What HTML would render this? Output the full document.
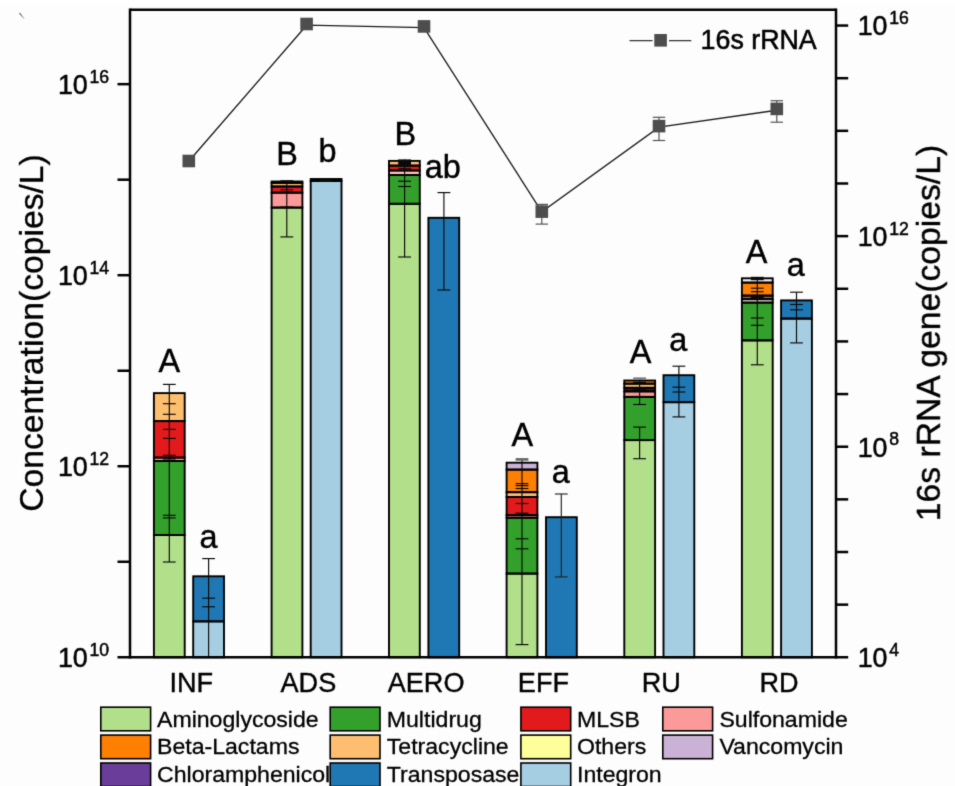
<!DOCTYPE html>
<html lang="en">
<head>
<meta charset="utf-8">
<title>ARG concentration chart</title>
<style>
html,body{margin:0;padding:0;background:#fdfdfd;}
body{width:955px;height:786px;overflow:hidden;font-family:"Liberation Sans",sans-serif;}
svg{display:block;}
</style>
</head>
<body>
<svg width="955" height="786" viewBox="0 0 955 786" font-family="'Liberation Sans', sans-serif" fill="#000">
<rect x="0" y="0" width="955" height="786" fill="#fdfdfd"/>
<rect x="0" y="0" width="955" height="5" fill="#ffffff"/>
<defs><filter id="soft" x="-2%" y="-2%" width="104%" height="104%" color-interpolation-filters="sRGB"><feConvolveMatrix order="3" kernelMatrix="0.0144 0.0912 0.0144 0.0912 0.5776 0.0912 0.0144 0.0912 0.0144" divisor="1" edgeMode="duplicate" preserveAlpha="false"/></filter></defs>
<g filter="url(#soft)">
<defs><linearGradient id="sg" gradientUnits="userSpaceOnUse" x1="19.4" y1="13" x2="24.6" y2="19.2"><stop offset="0" stop-color="#666"/><stop offset="0.6" stop-color="#7a7a7a"/><stop offset="1" stop-color="#c8c8c8"/></linearGradient></defs>
<path d="M19.0 13.4L19.9 12.6L24.7 18.9L24.3 19.3Z" fill="url(#sg)"/>
<rect x="153.9" y="393.1" width="30.8" height="28" fill="#fdbf6f"/>
<rect x="153.9" y="421.1" width="30.8" height="36.5" fill="#e31a1c"/>
<rect x="153.9" y="457.6" width="30.8" height="3.4" fill="#fb9a99"/>
<rect x="153.9" y="461" width="30.8" height="74" fill="#33a02c"/>
<rect x="153.9" y="535" width="30.8" height="122.3" fill="#b2df8a"/>
<rect x="153.9" y="393.1" width="30.8" height="28" fill="none" stroke="#000" stroke-width="1.9"/>
<rect x="153.9" y="421.1" width="30.8" height="36.5" fill="none" stroke="#000" stroke-width="1.9"/>
<rect x="153.9" y="457.6" width="30.8" height="3.4" fill="none" stroke="#000" stroke-width="1.9"/>
<rect x="153.9" y="461" width="30.8" height="74" fill="none" stroke="#000" stroke-width="1.9"/>
<rect x="153.9" y="535" width="30.8" height="122.3" fill="none" stroke="#000" stroke-width="1.9"/>
<path d="M169.3 384.4V562" stroke="#0a0a0a" stroke-width="1.15" fill="none"/>
<path d="M162.9 384.4H175.7" stroke="#0a0a0a" stroke-width="1.15" fill="none"/>
<path d="M162.9 403.7H175.7" stroke="#0a0a0a" stroke-width="1.15" fill="none"/>
<path d="M162.9 414.3H175.7" stroke="#0a0a0a" stroke-width="1.15" fill="none"/>
<path d="M162.9 429.4H175.7" stroke="#0a0a0a" stroke-width="1.15" fill="none"/>
<path d="M162.9 438.4H175.7" stroke="#0a0a0a" stroke-width="1.15" fill="none"/>
<path d="M162.9 455.3H175.7" stroke="#0a0a0a" stroke-width="1.15" fill="none"/>
<path d="M162.9 459H175.7" stroke="#0a0a0a" stroke-width="1.15" fill="none"/>
<path d="M162.9 515.3H175.7" stroke="#0a0a0a" stroke-width="1.15" fill="none"/>
<path d="M162.9 517.9H175.7" stroke="#0a0a0a" stroke-width="1.15" fill="none"/>
<path d="M162.9 562H175.7" stroke="#0a0a0a" stroke-width="1.15" fill="none"/>
<rect x="193.2" y="576.3" width="30.8" height="45.1" fill="#1f78b4"/>
<rect x="193.2" y="621.4" width="30.8" height="35.9" fill="#a6cee3"/>
<rect x="193.2" y="576.3" width="30.8" height="45.1" fill="none" stroke="#000" stroke-width="1.9"/>
<rect x="193.2" y="621.4" width="30.8" height="35.9" fill="none" stroke="#000" stroke-width="1.9"/>
<path d="M208.6 558.6V657.3" stroke="#0a0a0a" stroke-width="1.15" fill="none"/>
<path d="M202.2 558.6H215" stroke="#0a0a0a" stroke-width="1.15" fill="none"/>
<path d="M202.2 598.2H215" stroke="#0a0a0a" stroke-width="1.15" fill="none"/>
<path d="M202.2 606.8H215" stroke="#0a0a0a" stroke-width="1.15" fill="none"/>
<rect x="271.6" y="181.5" width="30.8" height="1.4" fill="#ff7f00"/>
<rect x="271.6" y="182.9" width="30.8" height="3.6" fill="#fdbf6f"/>
<rect x="271.6" y="186.5" width="30.8" height="6.2" fill="#e31a1c"/>
<rect x="271.6" y="192.7" width="30.8" height="14.9" fill="#fb9a99"/>
<rect x="271.6" y="207.6" width="30.8" height="449.7" fill="#b2df8a"/>
<rect x="271.6" y="181.5" width="30.8" height="1.4" fill="none" stroke="#000" stroke-width="1.9"/>
<rect x="271.6" y="182.9" width="30.8" height="3.6" fill="none" stroke="#000" stroke-width="1.9"/>
<rect x="271.6" y="186.5" width="30.8" height="6.2" fill="none" stroke="#000" stroke-width="1.9"/>
<rect x="271.6" y="192.7" width="30.8" height="14.9" fill="none" stroke="#000" stroke-width="1.9"/>
<rect x="271.6" y="207.6" width="30.8" height="449.7" fill="none" stroke="#000" stroke-width="1.9"/>
<path d="M286.8 181V236.9" stroke="#0a0a0a" stroke-width="1.15" fill="none"/>
<path d="M280.4 181.2H293.2" stroke="#0a0a0a" stroke-width="2" fill="none"/>
<path d="M280.4 189.8H293.2" stroke="#0a0a0a" stroke-width="1" fill="none"/>
<path d="M280.4 192.2H293.2" stroke="#0a0a0a" stroke-width="1.15" fill="none"/>
<path d="M280.4 207H293.2" stroke="#0a0a0a" stroke-width="1.15" fill="none"/>
<path d="M280.4 236.9H293.2" stroke="#0a0a0a" stroke-width="1.15" fill="none"/>
<rect x="310.7" y="179" width="30.8" height="2" fill="#1f78b4"/>
<rect x="310.7" y="181" width="30.8" height="476.3" fill="#a6cee3"/>
<rect x="310.7" y="179" width="30.8" height="2" fill="none" stroke="#000" stroke-width="1.9"/>
<rect x="310.7" y="181" width="30.8" height="476.3" fill="none" stroke="#000" stroke-width="1.9"/>
<path d="M326.1 178.6V181.6" stroke="#0a0a0a" stroke-width="1.15" fill="none"/>
<path d="M319.7 180H332.5" stroke="#0a0a0a" stroke-width="3.6" fill="none"/>
<rect x="389" y="160.9" width="30.8" height="4.7" fill="#fdbf6f"/>
<rect x="389" y="165.6" width="30.8" height="4.9" fill="#e31a1c"/>
<rect x="389" y="170.5" width="30.8" height="4.5" fill="#fcc4ba"/>
<rect x="389" y="175" width="30.8" height="28.8" fill="#33a02c"/>
<rect x="389" y="203.8" width="30.8" height="453.5" fill="#b2df8a"/>
<rect x="389" y="160.9" width="30.8" height="4.7" fill="none" stroke="#000" stroke-width="1.9"/>
<rect x="389" y="165.6" width="30.8" height="4.9" fill="none" stroke="#000" stroke-width="1.9"/>
<rect x="389" y="170.5" width="30.8" height="4.5" fill="none" stroke="#000" stroke-width="1.9"/>
<rect x="389" y="175" width="30.8" height="28.8" fill="none" stroke="#000" stroke-width="1.9"/>
<rect x="389" y="203.8" width="30.8" height="453.5" fill="none" stroke="#000" stroke-width="1.9"/>
<path d="M404.6 159.5V257" stroke="#0a0a0a" stroke-width="1.15" fill="none"/>
<path d="M398.2 162.9H411" stroke="#0a0a0a" stroke-width="7" fill="none"/>
<path d="M398.2 168.4H411" stroke="#0a0a0a" stroke-width="1" fill="none"/>
<path d="M398.2 181.2H411" stroke="#0a0a0a" stroke-width="1.15" fill="none"/>
<path d="M398.2 186.5H411" stroke="#0a0a0a" stroke-width="1.15" fill="none"/>
<path d="M398.2 257H411" stroke="#0a0a0a" stroke-width="1.15" fill="none"/>
<rect x="428.4" y="217.8" width="30.8" height="439.5" fill="#1f78b4"/>
<rect x="428.4" y="217.8" width="30.8" height="439.5" fill="none" stroke="#000" stroke-width="1.9"/>
<path d="M443.9 192.6V290" stroke="#0a0a0a" stroke-width="1.15" fill="none"/>
<path d="M437.5 192.6H450.3" stroke="#0a0a0a" stroke-width="1.15" fill="none"/>
<path d="M437.5 290H450.3" stroke="#0a0a0a" stroke-width="1.15" fill="none"/>
<rect x="506.6" y="462.7" width="30.8" height="6.9" fill="#cab2d6"/>
<rect x="506.6" y="469.6" width="30.8" height="22.6" fill="#ff7f00"/>
<rect x="506.6" y="492.2" width="30.8" height="4.8" fill="#fdbf6f"/>
<rect x="506.6" y="497" width="30.8" height="18" fill="#e31a1c"/>
<rect x="506.6" y="515" width="30.8" height="2.7" fill="#fb9a99"/>
<rect x="506.6" y="517.7" width="30.8" height="55.9" fill="#33a02c"/>
<rect x="506.6" y="573.6" width="30.8" height="83.7" fill="#b2df8a"/>
<rect x="506.6" y="462.7" width="30.8" height="6.9" fill="none" stroke="#000" stroke-width="1.9"/>
<rect x="506.6" y="469.6" width="30.8" height="22.6" fill="none" stroke="#000" stroke-width="1.9"/>
<rect x="506.6" y="492.2" width="30.8" height="4.8" fill="none" stroke="#000" stroke-width="1.9"/>
<rect x="506.6" y="497" width="30.8" height="18" fill="none" stroke="#000" stroke-width="1.9"/>
<rect x="506.6" y="515" width="30.8" height="2.7" fill="none" stroke="#000" stroke-width="1.9"/>
<rect x="506.6" y="517.7" width="30.8" height="55.9" fill="none" stroke="#000" stroke-width="1.9"/>
<rect x="506.6" y="573.6" width="30.8" height="83.7" fill="none" stroke="#000" stroke-width="1.9"/>
<path d="M522 459.2V644.6" stroke="#0a0a0a" stroke-width="1.15" fill="none"/>
<path d="M515.6 483.6H528.4" stroke="#0a0a0a" stroke-width="1.15" fill="none"/>
<path d="M515.6 485.6H528.4" stroke="#0a0a0a" stroke-width="1.15" fill="none"/>
<path d="M515.6 488.5H528.4" stroke="#0a0a0a" stroke-width="1.15" fill="none"/>
<path d="M515.6 503.5H528.4" stroke="#0a0a0a" stroke-width="1.15" fill="none"/>
<path d="M515.6 513.6H528.4" stroke="#0a0a0a" stroke-width="2" fill="none"/>
<path d="M515.6 538.8H528.4" stroke="#0a0a0a" stroke-width="1.15" fill="none"/>
<path d="M515.6 548.8H528.4" stroke="#0a0a0a" stroke-width="1.15" fill="none"/>
<path d="M515.6 644.6H528.4" stroke="#0a0a0a" stroke-width="1.15" fill="none"/>
<path d="M522 459.2V462" stroke="#666" stroke-width="1.15" fill="none"/>
<path d="M515.6 459.4H528.4" stroke="#666" stroke-width="2.6" fill="none"/>
<rect x="546" y="517.2" width="30.8" height="140.1" fill="#1f78b4"/>
<rect x="546" y="517.2" width="30.8" height="140.1" fill="none" stroke="#000" stroke-width="1.9"/>
<path d="M561.3 494V576.9" stroke="#222" stroke-width="1.15" fill="none"/>
<path d="M554.9 494H567.7" stroke="#222" stroke-width="1.15" fill="none"/>
<path d="M554.9 576.9H567.7" stroke="#222" stroke-width="1.15" fill="none"/>
<rect x="624.3" y="380.5" width="30.8" height="3.2" fill="#ff7f00"/>
<rect x="624.3" y="383.7" width="30.8" height="4.1" fill="#fdbf6f"/>
<rect x="624.3" y="387.8" width="30.8" height="3.6" fill="#4a1a12"/>
<rect x="624.3" y="391.4" width="30.8" height="5.5" fill="#fb9a99"/>
<rect x="624.3" y="396.9" width="30.8" height="43.2" fill="#33a02c"/>
<rect x="624.3" y="440.1" width="30.8" height="217.2" fill="#b2df8a"/>
<rect x="624.3" y="380.5" width="30.8" height="3.2" fill="none" stroke="#000" stroke-width="1.9"/>
<rect x="624.3" y="383.7" width="30.8" height="4.1" fill="none" stroke="#000" stroke-width="1.9"/>
<rect x="624.3" y="387.8" width="30.8" height="3.6" fill="none" stroke="#000" stroke-width="1.9"/>
<rect x="624.3" y="391.4" width="30.8" height="5.5" fill="none" stroke="#000" stroke-width="1.9"/>
<rect x="624.3" y="396.9" width="30.8" height="43.2" fill="none" stroke="#000" stroke-width="1.9"/>
<rect x="624.3" y="440.1" width="30.8" height="217.2" fill="none" stroke="#000" stroke-width="1.9"/>
<path d="M639.6 378V404.5" stroke="#0a0a0a" stroke-width="1.15" fill="none"/>
<path d="M633.2 382.5H646" stroke="#0a0a0a" stroke-width="1.6" fill="none"/>
<path d="M633.2 389.2H646" stroke="#0a0a0a" stroke-width="3" fill="none"/>
<path d="M633.2 396.6H646" stroke="#0a0a0a" stroke-width="1.4" fill="none"/>
<path d="M633.2 404.5H646" stroke="#0a0a0a" stroke-width="1.15" fill="none"/>
<path d="M639.6 427.1V458.7" stroke="#0a0a0a" stroke-width="1.15" fill="none"/>
<path d="M633.2 427.1H646" stroke="#0a0a0a" stroke-width="1.15" fill="none"/>
<path d="M633.2 458.7H646" stroke="#0a0a0a" stroke-width="1.15" fill="none"/>
<path d="M639.6 378V380" stroke="#777" stroke-width="1.15" fill="none"/>
<path d="M633.2 378.2H646" stroke="#777" stroke-width="1.6" fill="none"/>
<rect x="663.5" y="375.2" width="30.8" height="27" fill="#1f78b4"/>
<rect x="663.5" y="402.2" width="30.8" height="255.1" fill="#a6cee3"/>
<rect x="663.5" y="375.2" width="30.8" height="27" fill="none" stroke="#000" stroke-width="1.9"/>
<rect x="663.5" y="402.2" width="30.8" height="255.1" fill="none" stroke="#000" stroke-width="1.9"/>
<path d="M678.9 366.2V416.9" stroke="#0a0a0a" stroke-width="1.15" fill="none"/>
<path d="M672.5 366.2H685.3" stroke="#0a0a0a" stroke-width="1.15" fill="none"/>
<path d="M672.5 387.2H685.3" stroke="#0a0a0a" stroke-width="1.15" fill="none"/>
<path d="M672.5 392H685.3" stroke="#0a0a0a" stroke-width="1.15" fill="none"/>
<path d="M672.5 416.9H685.3" stroke="#0a0a0a" stroke-width="1.15" fill="none"/>
<rect x="741.9" y="278.3" width="30.8" height="4.3" fill="#f3edf8"/>
<rect x="741.9" y="282.6" width="30.8" height="13" fill="#ff7f00"/>
<rect x="741.9" y="295.6" width="30.8" height="3.6" fill="#8c6a5a"/>
<rect x="741.9" y="299.2" width="30.8" height="3.4" fill="#ffeee9"/>
<rect x="741.9" y="302.6" width="30.8" height="37.8" fill="#33a02c"/>
<rect x="741.9" y="340.4" width="30.8" height="316.9" fill="#b2df8a"/>
<rect x="741.9" y="278.3" width="30.8" height="4.3" fill="none" stroke="#000" stroke-width="1.9"/>
<rect x="741.9" y="282.6" width="30.8" height="13" fill="none" stroke="#000" stroke-width="1.9"/>
<rect x="741.9" y="295.6" width="30.8" height="3.6" fill="none" stroke="#000" stroke-width="1.9"/>
<rect x="741.9" y="299.2" width="30.8" height="3.4" fill="none" stroke="#000" stroke-width="1.9"/>
<rect x="741.9" y="302.6" width="30.8" height="37.8" fill="none" stroke="#000" stroke-width="1.9"/>
<rect x="741.9" y="340.4" width="30.8" height="316.9" fill="none" stroke="#000" stroke-width="1.9"/>
<path d="M757.3 277.5V364.8" stroke="#0a0a0a" stroke-width="1.15" fill="none"/>
<path d="M750.9 278.5H763.7" stroke="#0a0a0a" stroke-width="3.4" fill="none"/>
<path d="M750.9 288.2H763.7" stroke="#0a0a0a" stroke-width="1.15" fill="none"/>
<path d="M750.9 291.7H763.7" stroke="#0a0a0a" stroke-width="1.15" fill="none"/>
<path d="M750.9 297.4H763.7" stroke="#0a0a0a" stroke-width="3" fill="none"/>
<path d="M750.9 318H763.7" stroke="#0a0a0a" stroke-width="1.15" fill="none"/>
<path d="M750.9 325.3H763.7" stroke="#0a0a0a" stroke-width="1.15" fill="none"/>
<path d="M750.9 364.8H763.7" stroke="#0a0a0a" stroke-width="1.15" fill="none"/>
<rect x="781.1" y="300.4" width="30.8" height="18.2" fill="#1f78b4"/>
<rect x="781.1" y="318.6" width="30.8" height="338.7" fill="#a6cee3"/>
<rect x="781.1" y="300.4" width="30.8" height="18.2" fill="none" stroke="#000" stroke-width="1.9"/>
<rect x="781.1" y="318.6" width="30.8" height="338.7" fill="none" stroke="#000" stroke-width="1.9"/>
<path d="M796.5 292.2V342.9" stroke="#0a0a0a" stroke-width="1.15" fill="none"/>
<path d="M790.1 292.2H802.9" stroke="#0a0a0a" stroke-width="1.15" fill="none"/>
<path d="M790.1 304.5H802.9" stroke="#0a0a0a" stroke-width="1.15" fill="none"/>
<path d="M790.1 309.8H802.9" stroke="#0a0a0a" stroke-width="1.15" fill="none"/>
<path d="M790.1 342.9H802.9" stroke="#0a0a0a" stroke-width="1.15" fill="none"/>
<polyline points="188.8,161.2 306.6,25.2 424,27.6 541.8,211.9 659,127.1 776.8,110.2" fill="none" stroke="#1c1c1c" stroke-width="1.35"/>
<path d="M541.8 204.4V224.1" stroke="#555" stroke-width="1.2" fill="none"/>
<path d="M535.6 204.4H548" stroke="#555" stroke-width="1.2" fill="none"/>
<path d="M535.6 224.1H548" stroke="#555" stroke-width="1.2" fill="none"/>
<path d="M659 117.3V140.5" stroke="#555" stroke-width="1.2" fill="none"/>
<path d="M652.8 117.3H665.2" stroke="#555" stroke-width="1.2" fill="none"/>
<path d="M652.8 140.5H665.2" stroke="#555" stroke-width="1.2" fill="none"/>
<path d="M776.8 100.7V122.2" stroke="#555" stroke-width="1.2" fill="none"/>
<path d="M770.6 100.7H783" stroke="#555" stroke-width="1.2" fill="none"/>
<path d="M770.6 122.2H783" stroke="#555" stroke-width="1.2" fill="none"/>
<rect x="182.5" y="154.7" width="12.6" height="12.6" fill="#4d4d4d"/>
<rect x="300.3" y="17.7" width="12.6" height="12.6" fill="#4d4d4d"/>
<rect x="417.7" y="20.1" width="12.6" height="12.6" fill="#4d4d4d"/>
<rect x="535.5" y="205.3" width="12.6" height="12.6" fill="#4d4d4d"/>
<rect x="652.7" y="119.8" width="12.6" height="12.6" fill="#4d4d4d"/>
<rect x="770.5" y="102.6" width="12.6" height="12.6" fill="#4d4d4d"/>
<path d="M629.5 40.5H652.5M669 40.5H691.3" stroke="#333" stroke-width="1.25" fill="none"/>
<rect x="654.3" y="34" width="12.6" height="12.6" fill="#4d4d4d"/>
<text x="700.6" y="49.2" font-size="26.8" text-anchor="start" stroke="#000" stroke-width="0.55">16s rRNA</text>
<path d="M130 8.45V658.55" stroke="#000" stroke-width="2.5" fill="none"/>
<path d="M836 8.45V658.55" stroke="#000" stroke-width="2.5" fill="none"/>
<path d="M130 9.7H836" stroke="#000" stroke-width="2.5" fill="none"/>
<path d="M117.5 657.3H848.2" stroke="#000" stroke-width="2.5" fill="none"/>
<path d="M117.5 84.15H130" stroke="#000" stroke-width="2.5" fill="none"/>
<path d="M117.5 179.68H130" stroke="#000" stroke-width="2.5" fill="none"/>
<path d="M117.5 275.2H130" stroke="#000" stroke-width="2.5" fill="none"/>
<path d="M117.5 370.73H130" stroke="#000" stroke-width="2.5" fill="none"/>
<path d="M117.5 466.25H130" stroke="#000" stroke-width="2.5" fill="none"/>
<path d="M117.5 561.77H130" stroke="#000" stroke-width="2.5" fill="none"/>
<path d="M836 25.55H848.2" stroke="#000" stroke-width="2.5" fill="none"/>
<path d="M836 78.2H848.2" stroke="#000" stroke-width="2.5" fill="none"/>
<path d="M836 130.84H848.2" stroke="#000" stroke-width="2.5" fill="none"/>
<path d="M836 183.49H848.2" stroke="#000" stroke-width="2.5" fill="none"/>
<path d="M836 236.13H848.2" stroke="#000" stroke-width="2.5" fill="none"/>
<path d="M836 288.78H848.2" stroke="#000" stroke-width="2.5" fill="none"/>
<path d="M836 341.43H848.2" stroke="#000" stroke-width="2.5" fill="none"/>
<path d="M836 394.07H848.2" stroke="#000" stroke-width="2.5" fill="none"/>
<path d="M836 446.72H848.2" stroke="#000" stroke-width="2.5" fill="none"/>
<path d="M836 499.36H848.2" stroke="#000" stroke-width="2.5" fill="none"/>
<path d="M836 552.01H848.2" stroke="#000" stroke-width="2.5" fill="none"/>
<path d="M836 604.65H848.2" stroke="#000" stroke-width="2.5" fill="none"/>
<text x="57.9" y="93.95" font-size="26.8" stroke="#000" stroke-width="0.5">10<tspan font-size="17.6" dx="1.7" dy="-11.2">16</tspan></text>
<text x="57.9" y="285" font-size="26.8" stroke="#000" stroke-width="0.5">10<tspan font-size="17.6" dx="1.7" dy="-11.2">14</tspan></text>
<text x="57.9" y="476.05" font-size="26.8" stroke="#000" stroke-width="0.5">10<tspan font-size="17.6" dx="1.7" dy="-11.2">12</tspan></text>
<text x="57.9" y="667.1" font-size="26.8" stroke="#000" stroke-width="0.5">10<tspan font-size="17.6" dx="1.7" dy="-11.2">10</tspan></text>
<text x="857.7" y="35.35" font-size="26.8" stroke="#000" stroke-width="0.5">10<tspan font-size="17.6" dx="1.7" dy="-11.2">16</tspan></text>
<text x="857.7" y="245.93" font-size="26.8" stroke="#000" stroke-width="0.5">10<tspan font-size="17.6" dx="1.7" dy="-11.2">12</tspan></text>
<text x="857.7" y="456.52" font-size="26.8" stroke="#000" stroke-width="0.5">10<tspan font-size="17.6" dx="1.7" dy="-11.2">8</tspan></text>
<text x="857.7" y="667.1" font-size="26.8" stroke="#000" stroke-width="0.5">10<tspan font-size="17.6" dx="1.7" dy="-11.2">4</tspan></text>
<text x="191.3" y="692" font-size="27.1" text-anchor="middle" stroke="#000" stroke-width="0.38">INF</text>
<text x="308.4" y="692" font-size="27.1" text-anchor="middle" stroke="#000" stroke-width="0.38">ADS</text>
<text x="426.1" y="692" font-size="27.1" text-anchor="middle" stroke="#000" stroke-width="0.38">AERO</text>
<text x="543.4" y="692" font-size="27.1" text-anchor="middle" stroke="#000" stroke-width="0.38">EFF</text>
<text x="661.2" y="692" font-size="27.1" text-anchor="middle" stroke="#000" stroke-width="0.38">RU</text>
<text x="779.1" y="692" font-size="27.1" text-anchor="middle" stroke="#000" stroke-width="0.38">RD</text>
<text transform="translate(43.4 333) rotate(-90)" font-size="33.7" text-anchor="middle" stroke="#000" stroke-width="0.35">Concentration(copies/L)</text>
<text transform="translate(939.9 333) rotate(-90)" font-size="33.7" text-anchor="middle" stroke="#000" stroke-width="0.35">16s rRNA gene(copies/L)</text>
<text x="169.2" y="372" font-size="32.4" text-anchor="middle" stroke="#000" stroke-width="0.45">A</text>
<text x="208.6" y="547.8" font-size="32.4" text-anchor="middle" stroke="#000" stroke-width="0.45">a</text>
<text x="287" y="164.7" font-size="32.4" text-anchor="middle" stroke="#000" stroke-width="0.45">B</text>
<text x="327.4" y="162" font-size="32.4" text-anchor="middle" stroke="#000" stroke-width="0.45">b</text>
<text x="405.4" y="145" font-size="32.4" text-anchor="middle" stroke="#000" stroke-width="0.45">B</text>
<text x="442.7" y="178" font-size="32.4" text-anchor="middle" stroke="#000" stroke-width="0.45">ab</text>
<text x="522.4" y="446.3" font-size="32.4" text-anchor="middle" stroke="#000" stroke-width="0.45">A</text>
<text x="560.8" y="483" font-size="32.4" text-anchor="middle" stroke="#000" stroke-width="0.45">a</text>
<text x="640.6" y="363.3" font-size="32.4" text-anchor="middle" stroke="#000" stroke-width="0.45">A</text>
<text x="678.3" y="350.6" font-size="32.4" text-anchor="middle" stroke="#000" stroke-width="0.45">a</text>
<text x="756.6" y="263.1" font-size="32.4" text-anchor="middle" stroke="#000" stroke-width="0.45">A</text>
<text x="795.8" y="276.4" font-size="32.4" text-anchor="middle" stroke="#000" stroke-width="0.45">a</text>
<rect x="100.8" y="707.2" width="49.8" height="23.6" fill="#b2df8a" stroke="#000" stroke-width="1.6"/>
<text transform="translate(157 726.55) scale(1.036 1)" font-size="22.3" stroke="#000" stroke-width="0.3">Aminoglycoside</text>
<rect x="100.8" y="735.1" width="49.8" height="23.6" fill="#ff7f00" stroke="#000" stroke-width="1.6"/>
<text transform="translate(157 754.45) scale(1.036 1)" font-size="22.3" stroke="#000" stroke-width="0.3">Beta-Lactams</text>
<rect x="100.8" y="763" width="49.8" height="23.6" fill="#6a3d9a" stroke="#000" stroke-width="1.6"/>
<text transform="translate(157 782.35) scale(1.036 1)" font-size="22.3" stroke="#000" stroke-width="0.3">Chloramphenicol</text>
<rect x="330.2" y="707.2" width="49.8" height="23.6" fill="#33a02c" stroke="#000" stroke-width="1.6"/>
<text transform="translate(386.8 726.55) scale(1.036 1)" font-size="22.3" stroke="#000" stroke-width="0.3">Multidrug</text>
<rect x="330.2" y="735.1" width="49.8" height="23.6" fill="#fdbf6f" stroke="#000" stroke-width="1.6"/>
<text transform="translate(386.8 754.45) scale(1.036 1)" font-size="22.3" stroke="#000" stroke-width="0.3">Tetracycline</text>
<rect x="330.2" y="763" width="49.8" height="23.6" fill="#1f78b4" stroke="#000" stroke-width="1.6"/>
<text transform="translate(386.8 782.35) scale(1.036 1)" font-size="22.3" stroke="#000" stroke-width="0.3">Transposase</text>
<rect x="520.9" y="707.2" width="49.8" height="23.6" fill="#e31a1c" stroke="#000" stroke-width="1.6"/>
<text transform="translate(577 726.55) scale(1.036 1)" font-size="22.3" stroke="#000" stroke-width="0.3">MLSB</text>
<rect x="520.9" y="735.1" width="49.8" height="23.6" fill="#ffff99" stroke="#000" stroke-width="1.6"/>
<text transform="translate(577 754.45) scale(1.036 1)" font-size="22.3" stroke="#000" stroke-width="0.3">Others</text>
<rect x="520.9" y="763" width="49.8" height="23.6" fill="#a6cee3" stroke="#000" stroke-width="1.6"/>
<text transform="translate(577 782.35) scale(1.036 1)" font-size="22.3" stroke="#000" stroke-width="0.3">Integron</text>
<rect x="662.8" y="707.2" width="49.8" height="23.6" fill="#fb9a99" stroke="#000" stroke-width="1.6"/>
<text transform="translate(719.4 726.55) scale(1.036 1)" font-size="22.3" stroke="#000" stroke-width="0.3">Sulfonamide</text>
<rect x="662.8" y="735.1" width="49.8" height="23.6" fill="#cab2d6" stroke="#000" stroke-width="1.6"/>
<text transform="translate(719.4 754.45) scale(1.036 1)" font-size="22.3" stroke="#000" stroke-width="0.3">Vancomycin</text>
</g>
</svg>
</body>
</html>
